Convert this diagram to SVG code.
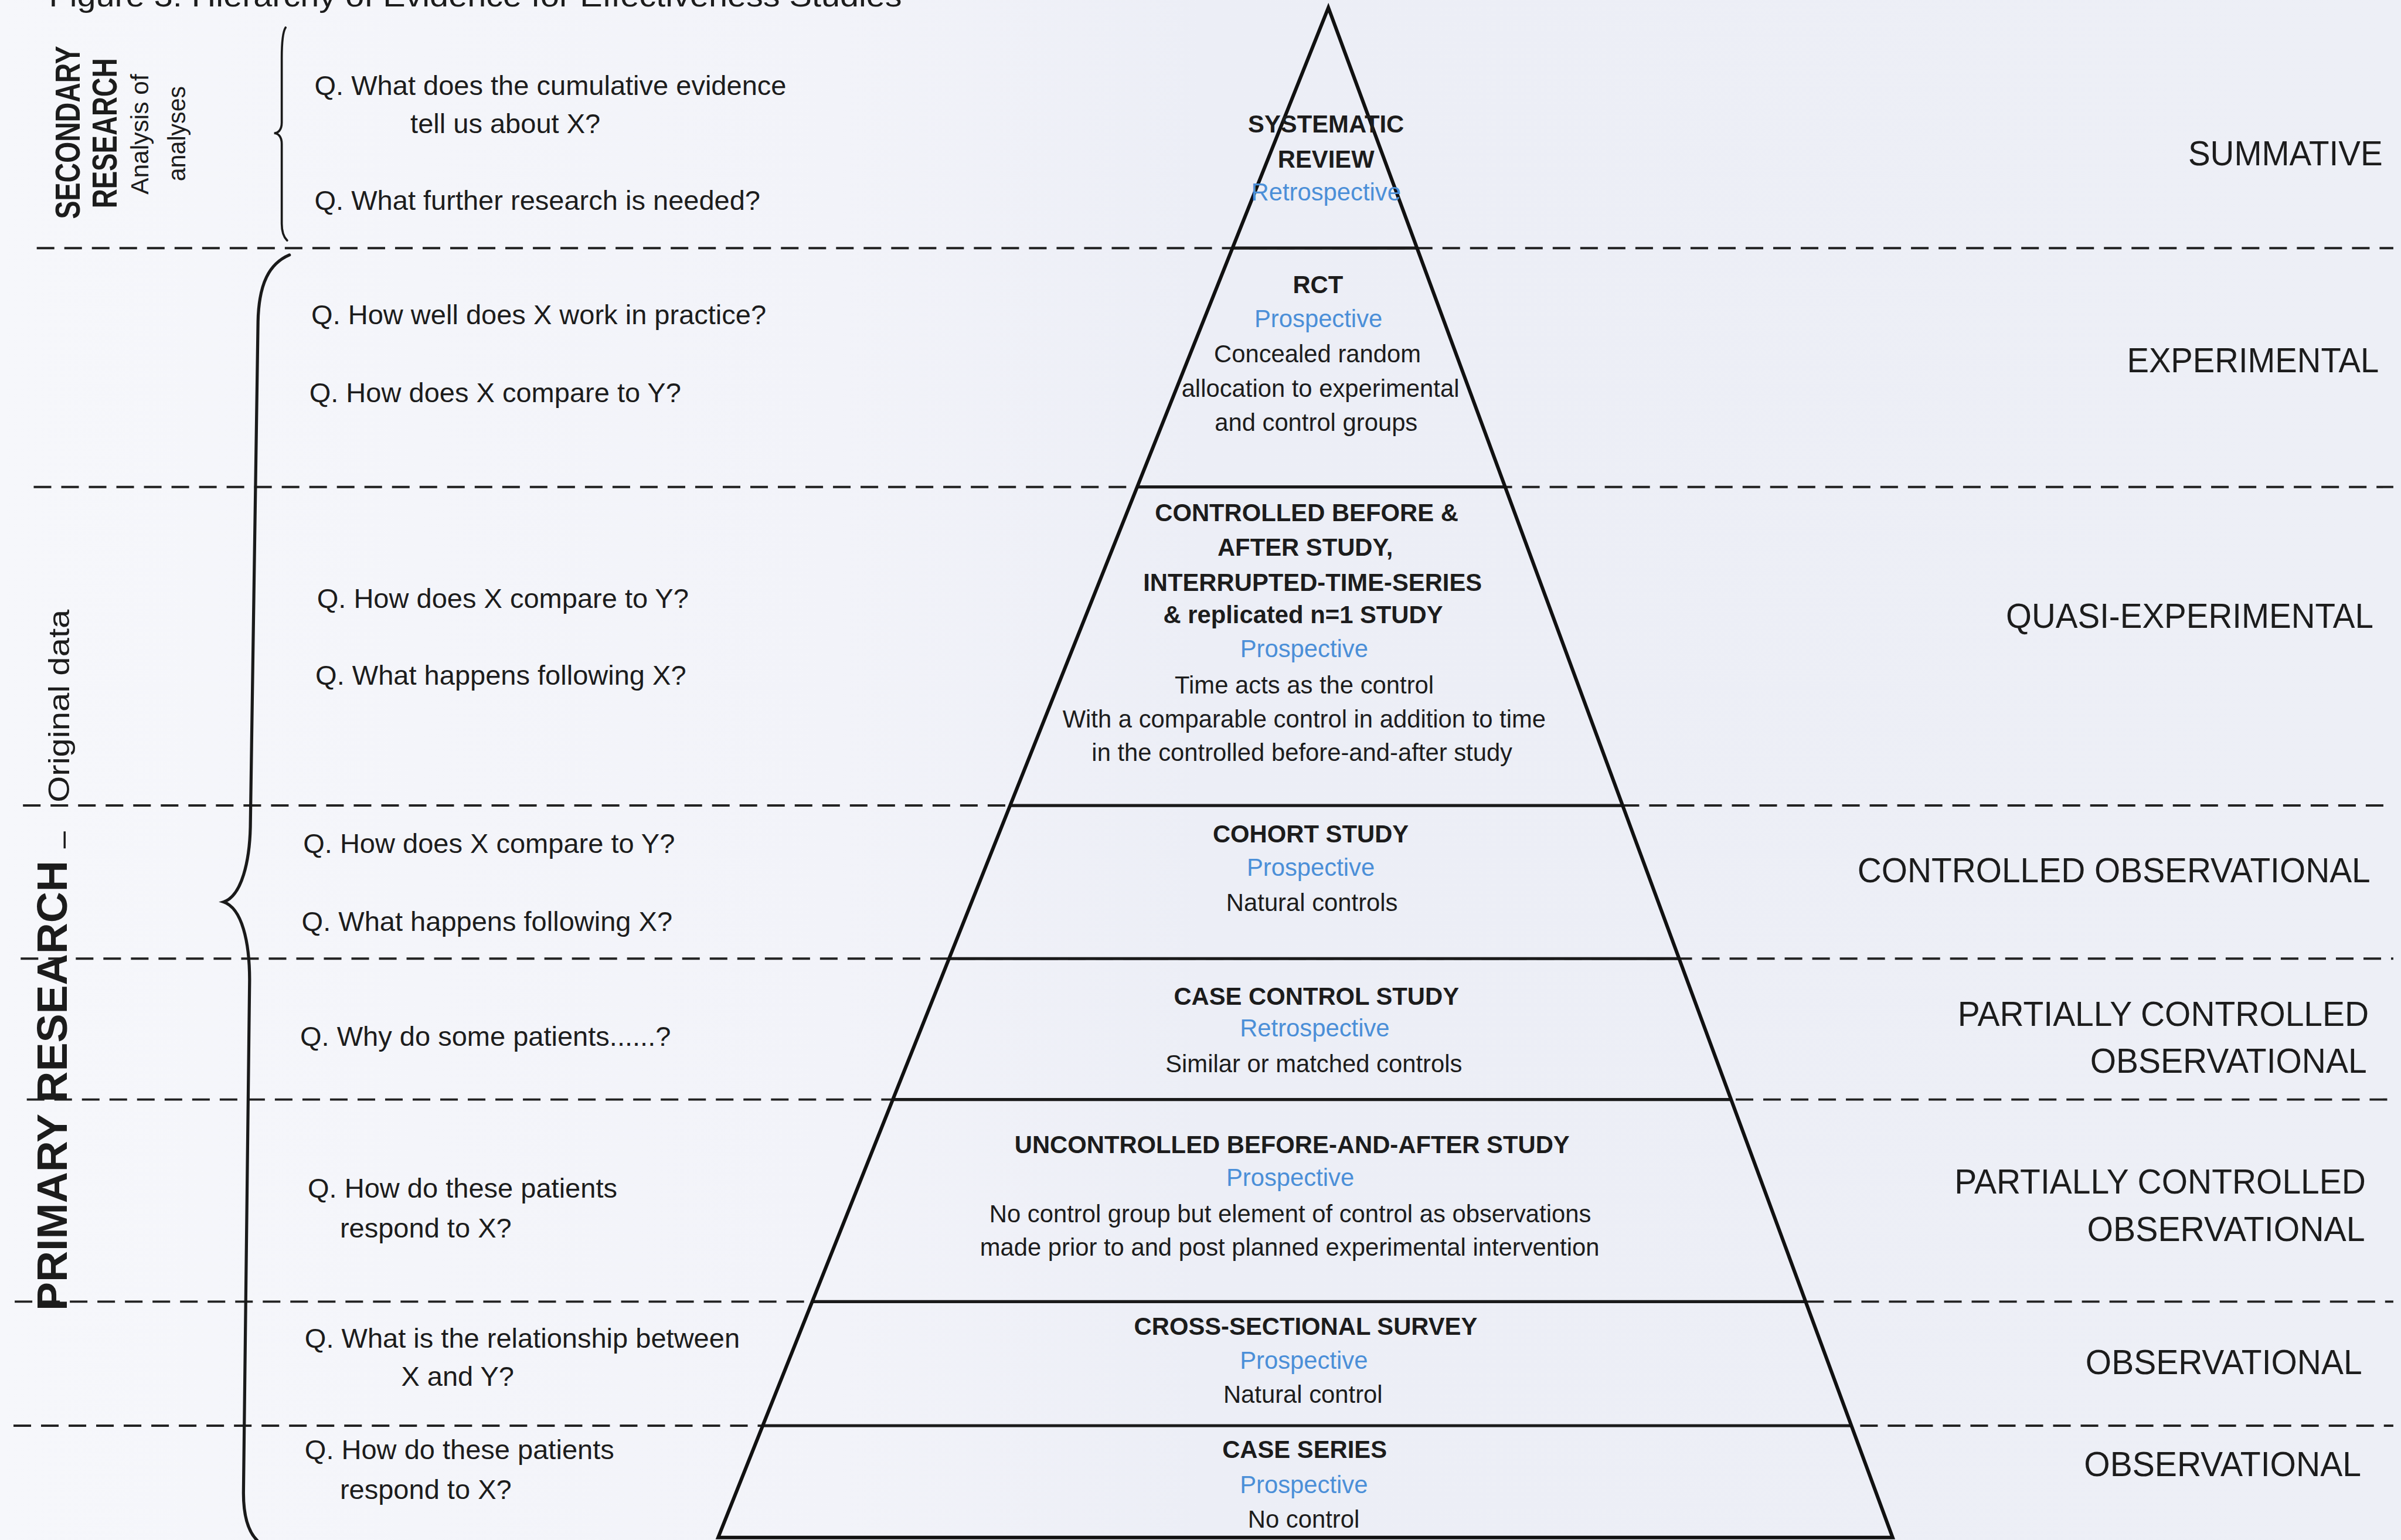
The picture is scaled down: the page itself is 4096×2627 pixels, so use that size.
<svg xmlns="http://www.w3.org/2000/svg" width="4096" height="2627" viewBox="0 0 4096 2627">
<defs>
<linearGradient id="bg" x1="0" y1="0" x2="1" y2="0">
<stop offset="0" stop-color="#F6F7FB"/>
<stop offset="0.35" stop-color="#F2F3F9"/>
<stop offset="0.5" stop-color="#ECEEF6"/>
<stop offset="1" stop-color="#EDEFF6"/>
</linearGradient>
<style>
text{font-family:"Liberation Sans",Arial,sans-serif;fill:#1c1c1c}
.q{font-size:18px}
.b{font-size:16px;font-weight:bold;text-anchor:middle}
.t{font-size:16px;text-anchor:middle}
.blue{fill:#4b8fd8}
.r{font-size:22.5px}
.vb{font-weight:bold}
.dash{stroke:#222;stroke-width:1.5;stroke-dasharray:11.5 6.5;fill:none}
.solid{stroke:#1a1a1a;stroke-width:2;fill:none}
.brace{stroke:#1a1a1a;fill:none;stroke-linecap:round}
</style>
</defs>
<rect width="4096" height="2627" fill="url(#bg)"/>
<g transform="scale(2.61224)">
<text id="title" x="32" y="4.2" font-size="20" textLength="557" lengthAdjust="spacingAndGlyphs">Figure 3: Hierarchy of Evidence for Effectiveness Studies</text>

<g id="separators">
<line class="dash" x1="24" y1="162" x2="1563" y2="162"/>
<line class="dash" x1="22" y1="318" x2="1563" y2="318"/>
<line class="dash" x1="15" y1="526" x2="1563" y2="526"/>
<line class="dash" x1="13.5" y1="626" x2="1563" y2="626"/>
<line class="dash" x1="17.5" y1="718" x2="1563" y2="718"/>
<line class="dash" x1="9.6" y1="850" x2="1563" y2="850"/>
<line class="dash" x1="8.8" y1="931" x2="1563" y2="931"/>
<line class="solid" x1="805" y1="162" x2="925.4" y2="162"/>
<line class="solid" x1="743" y1="318" x2="983" y2="318"/>
<line class="solid" x1="660" y1="526" x2="1059.7" y2="526"/>
<line class="solid" x1="620.1" y1="626" x2="1096.6" y2="626"/>
<line class="solid" x1="583.4" y1="718" x2="1130.5" y2="718"/>
<line class="solid" x1="530.8" y1="850" x2="1179.2" y2="850"/>
<line class="solid" x1="498.5" y1="931" x2="1209.1" y2="931"/>
</g>

<g id="pyramid-outline">
<polygon points="867.5,5 1236,1004 469,1004" fill="none" stroke="#111" stroke-width="2.3" stroke-linejoin="miter"/>
</g>

<g id="braces">
<path class="brace" stroke-width="1.4" d="M186.5 18 C184.5 21 184 28 184 38 L184 80 C184 85 181.5 87 179 87 C181.5 87 184 89 184 94 L184 146 C184 151 185 154.5 187.5 157"/>
<path class="brace" stroke-width="2" d="M189 166.5 C176 172 169 185 168.5 210 L163.5 540 C163 562 158 585 146 589 C158 593 163 615 163 640 L159 975 C159 990 162 1000 168 1006"/>
</g>

<g id="side-labels">
<text class="vb" font-size="23" transform="translate(52,143) rotate(-90)" textLength="113" lengthAdjust="spacingAndGlyphs">SECONDARY</text>
<text class="vb" font-size="23" transform="translate(76,136) rotate(-90)" textLength="98" lengthAdjust="spacingAndGlyphs">RESEARCH</text>
<text font-size="16.5" transform="translate(97,127) rotate(-90)" textLength="78.7" lengthAdjust="spacingAndGlyphs">Analysis of</text>
<text font-size="16.5" transform="translate(121,118.4) rotate(-90)" textLength="62.2" lengthAdjust="spacingAndGlyphs">analyses</text>
<text class="vb" font-size="28" transform="translate(43.5,856) rotate(-90)" textLength="294" lengthAdjust="spacingAndGlyphs">PRIMARY RESEARCH</text>
<text font-size="20" transform="translate(47,554) rotate(-90)">–</text>
<text font-size="19" transform="translate(45,524) rotate(-90)" textLength="126" lengthAdjust="spacingAndGlyphs">Original data</text>
</g>

<g id="tier-systematic-review">
<text class="q" x="205.4" y="62">Q. What does the cumulative evidence</text>
<text class="q" x="268" y="87">tell us about X?</text>
<text class="q" x="205.4" y="137">Q. What further research is needed?</text>
<text class="b" x="866" y="86.5">SYSTEMATIC</text>
<text class="b" x="866" y="109.4">REVIEW</text>
<text class="t blue" x="866" y="131">Retrospective</text>
<text class="r" x="1429" y="108" textLength="127" lengthAdjust="spacingAndGlyphs">SUMMATIVE</text>
</g>

<g id="tier-rct">
<text class="q" x="203.3" y="211.7">Q. How well does X work in practice?</text>
<text class="q" x="202" y="262.7">Q. How does X compare to Y?</text>
<text class="b" x="860.7" y="191.3">RCT</text>
<text class="t blue" x="861" y="213.6">Prospective</text>
<text class="t" x="860.4" y="236.5">Concealed random</text>
<text class="t" x="862.3" y="259">allocation to experimental</text>
<text class="t" x="859.5" y="281.5">and control groups</text>
<text class="r" x="1389" y="243" textLength="164.6" lengthAdjust="spacingAndGlyphs">EXPERIMENTAL</text>
</g>

<g id="tier-controlled-before-after">
<text class="q" x="207" y="397">Q. How does X compare to Y?</text>
<text class="q" x="206" y="447">Q. What happens following X?</text>
<text class="b" x="853.3" y="340.5">CONTROLLED BEFORE &amp;</text>
<text class="b" x="852.4" y="363">AFTER STUDY,</text>
<text class="b" x="857.2" y="385.7">INTERRUPTED-TIME-SERIES</text>
<text class="b" x="851" y="407">&amp; replicated n=1 STUDY</text>
<text class="t blue" x="851.7" y="429">Prospective</text>
<text class="t" x="851.8" y="453">Time acts as the control</text>
<text class="t" x="851.7" y="475">With a comparable control in addition to time</text>
<text class="t" x="850.3" y="497">in the controlled before-and-after study</text>
<text class="r" x="1310" y="410" textLength="240" lengthAdjust="spacingAndGlyphs">QUASI-EXPERIMENTAL</text>
</g>

<g id="tier-cohort">
<text class="q" x="198" y="557">Q. How does X compare to Y?</text>
<text class="q" x="197" y="608">Q. What happens following X?</text>
<text class="b" x="856" y="550">COHORT STUDY</text>
<text class="t blue" x="856" y="572">Prospective</text>
<text class="t" x="856.8" y="595">Natural controls</text>
<text class="r" x="1213" y="576" textLength="335" lengthAdjust="spacingAndGlyphs">CONTROLLED OBSERVATIONAL</text>
</g>

<g id="tier-case-control">
<text class="q" x="196" y="683">Q. Why do some patients......?</text>
<text class="b" x="859.7" y="656">CASE CONTROL STUDY</text>
<text class="t blue" x="858.6" y="677">Retrospective</text>
<text class="t" x="858" y="700">Similar or matched controls</text>
<text class="r" x="1278.5" y="670" textLength="268.5" lengthAdjust="spacingAndGlyphs">PARTIALLY CONTROLLED</text>
<text class="r" x="1365" y="700.5" textLength="180.7" lengthAdjust="spacingAndGlyphs">OBSERVATIONAL</text>
</g>

<g id="tier-uncontrolled-before-after">
<text class="q" x="201" y="782">Q. How do these patients</text>
<text class="q" x="222" y="808">respond to X?</text>
<text class="b" x="843.8" y="753">UNCONTROLLED BEFORE-AND-AFTER STUDY</text>
<text class="t blue" x="842.6" y="774.5">Prospective</text>
<text class="t" x="842.6" y="798">No control group but element of control as observations</text>
<text class="t" x="842.2" y="820">made prior to and post planned experimental intervention</text>
<text class="r" x="1276.4" y="779.5" textLength="268.6" lengthAdjust="spacingAndGlyphs">PARTIALLY CONTROLLED</text>
<text class="r" x="1363" y="810.5" textLength="181.5" lengthAdjust="spacingAndGlyphs">OBSERVATIONAL</text>
</g>

<g id="tier-cross-sectional">
<text class="q" x="199" y="880">Q. What is the relationship between</text>
<text class="q" x="262" y="905">X  and Y?</text>
<text class="b" x="852.7" y="871.5">CROSS-SECTIONAL SURVEY</text>
<text class="t blue" x="851.5" y="894">Prospective</text>
<text class="t" x="850.9" y="916">Natural control</text>
<text class="r" x="1362" y="897.5" textLength="180.6" lengthAdjust="spacingAndGlyphs">OBSERVATIONAL</text>
</g>

<g id="tier-case-series">
<text class="q" x="199" y="953">Q. How do these patients</text>
<text class="q" x="222" y="979">respond to X?</text>
<text class="b" x="852" y="952">CASE SERIES</text>
<text class="t blue" x="851.5" y="975">Prospective</text>
<text class="t" x="851.4" y="997.5">No control</text>
<text class="r" x="1361" y="964" textLength="181" lengthAdjust="spacingAndGlyphs">OBSERVATIONAL</text>
</g>
</g>
</svg>
